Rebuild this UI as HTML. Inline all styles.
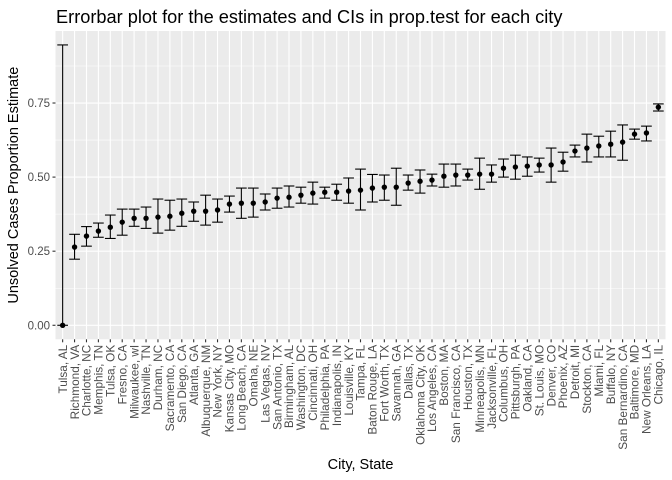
<!DOCTYPE html>
<html><head><meta charset="utf-8"><style>
body{margin:0;background:#fff}
svg{display:block;font-family:"Liberation Sans",Arial,sans-serif}
</style></head><body>
<svg id="c" width="672" height="480"></svg>
<script>
const cities=["Tulsa, AL","Richmond, VA","Charlotte, NC","Memphis, TN","Tulsa, OK","Fresno, CA","Milwaukee, wI","Nashville, TN","Durham, NC","Sacramento, CA","San Diego, CA","Atlanta, GA","Albuquerque, NM","New York, NY","Kansas City, MO","Long Beach, CA","Omaha, NE","Las Vegas, NV","San Antonio, TX","Birmingham, AL","Washington, DC","Cincinnati, OH","Philadelphia, PA","Indianapolis, IN","Louisville, KY","Tampa, FL","Baton Rouge, LA","Fort Worth, TX","Savannah, GA","Dallas, TX","Oklahoma City, OK","Los Angeles, CA","Boston, MA","San Francisco, CA","Houston, TX","Minneapolis, MN","Jacksonville, FL","Columbus, OH","Pittsburgh, PA","Oakland, CA","St. Louis, MO","Denver, CO","Phoenix, AZ","Detroit, MI","Stockton, CA","Miami, FL","Buffalo, NY","San Bernardino, CA","Baltimore, MD","New Orleans, LA","Chicago, IL"];
const estimates=[0,.264,.301,.318,.331,.348,.361,.361,.365,.368,.378,.385,.385,.389,.409,.412,.412,.416,.429,.432,.439,.446,.449,.449,.453,.456,.463,.466,.466,.480,.486,.490,.503,.507,.507,.510,.510,.530,.534,.537,.541,.541,.551,.588,.598,.605,.611,.618,.645,.649,.736];
const lowers=[0,.223,.267,.297,.293,.304,.334,.327,.311,.321,.334,.351,.338,.348,.382,.361,.365,.389,.395,.399,.412,.409,.429,.422,.412,.389,.416,.422,.405,.456,.446,.470,.466,.470,.490,.459,.483,.500,.493,.503,.517,.483,.520,.568,.551,.568,.568,.557,.628,.622,.723];
const uppers=[.946,.307,.333,.345,.372,.392,.392,.399,.426,.422,.426,.416,.439,.426,.436,.463,.463,.443,.463,.470,.466,.483,.466,.476,.497,.527,.509,.507,.530,.507,.524,.510,.544,.544,.527,.564,.541,.561,.574,.568,.564,.598,.584,.608,.645,.638,.655,.676,.662,.672,.747];
const yTicks=[0,0.25,0.5,0.75];
const yTickLabels=["0.00","0.25","0.50","0.75"];

const NS="http://www.w3.org/2000/svg",svg=document.getElementById('c');
function mk(t,a,p){const e=document.createElementNS(NS,t);for(const k in a)e.setAttribute(k,a[k]);(p||svg).appendChild(e);return e;}
const L=55.5,R=665.5,T=31,B=339.3;
const n=cities.length,step=(R-L)/(n-1+1.2);
const x=i=>L+step*(0.6+i);
const yMin=-0.0473,yMax=0.993;
const y=v=>B-(v-yMin)/(yMax-yMin)*(B-T);

const title=mk('text',{x:56,y:23,'font-size':18.2,fill:'#000'});title.textContent='Errorbar plot for the estimates and CIs in prop.test for each city';



const panel=mk('rect',{x:L,y:T,width:R-L,height:B-T,fill:'#ebebeb'});



const grid=mk('g',{});


for(let k=0;k<yTicks.length-1;k++){const m=(yTicks[k]+yTicks[k+1])/2;mk('line',{x1:L,x2:R,y1:y(m),y2:y(m),stroke:'#fff','stroke-width':0.55},grid);}
mk('line',{x1:L,x2:R,y1:y(0.875),y2:y(0.875),stroke:'#fff','stroke-width':0.55},grid);
yTicks.forEach(v=>mk('line',{x1:L,x2:R,y1:y(v),y2:y(v),stroke:'#fff','stroke-width':1.1},grid));
cities.forEach((c,i)=>mk('line',{x1:x(i),x2:x(i),y1:T,y2:B,stroke:'#fff','stroke-width':1.1},grid));

const yAxis=mk('g',{});


yTicks.forEach((v,k)=>{mk('line',{x1:L-3,x2:L,y1:y(v),y2:y(v),stroke:'#333','stroke-width':1.1},yAxis);
 const t=mk('text',{x:L-5.5,y:y(v)+4,'font-size':11.5,fill:'#4d4d4d','text-anchor':'end'},yAxis);t.textContent=yTickLabels[k];});

const marks=mk('g',{});


cities.forEach((c,i)=>{
 const g=mk('g',{},marks);
 
 
 const cx=x(i),hw=step*0.45;
 mk('line',{x1:cx,x2:cx,y1:y(lowers[i]),y2:y(uppers[i]),stroke:'#000','stroke-width':1.1},g);
 mk('line',{x1:cx-hw,x2:cx+hw,y1:y(lowers[i]),y2:y(lowers[i]),stroke:'#000','stroke-width':1.1},g);
 mk('line',{x1:cx-hw,x2:cx+hw,y1:y(uppers[i]),y2:y(uppers[i]),stroke:'#000','stroke-width':1.1},g);
 mk('circle',{cx:cx,cy:y(estimates[i]),r:2.7,fill:'#000'},g);
});

const xAxis=mk('g',{});


cities.forEach((c,i)=>{mk('line',{x1:x(i),x2:x(i),y1:B,y2:B+3,stroke:'#333','stroke-width':1.1},xAxis);
 const t=mk('text',{x:0,y:0,'font-size':11.8,fill:'#4d4d4d','text-anchor':'end',transform:`translate(${x(i)+4.2},${B+5.5}) rotate(-90)`},xAxis);t.textContent=c;});

const xt=mk('text',{x:(L+R)/2,y:469,'font-size':14.5,fill:'#000','text-anchor':'middle'});xt.textContent='City, State';


const yt=mk('text',{x:0,y:0,'font-size':14.5,fill:'#000','text-anchor':'middle',transform:`translate(18,${(T+B)/2}) rotate(-90)`});yt.textContent='Unsolved Cases Proportion Estimate';


</script>
</body></html>
